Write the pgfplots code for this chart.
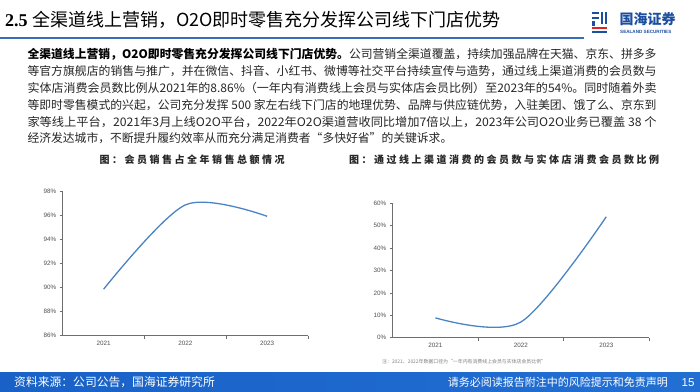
\documentclass[border=0pt]{standalone}
\usepackage{fontspec}
\usepackage{graphicx}
\usepackage{pgfplots}
\pgfplotsset{compat=1.18}
\setmainfont{Noto Sans CJK SC}
\newfontfamily\lib{Liberation Sans}
\newfontfamily\serif{Liberation Serif}
\newfontfamily\spaced[LetterSpace=25]{Noto Sans CJK SC}
\definecolor{lineblue}{HTML}{4A84C4}
\definecolor{axisgray}{HTML}{6E6E6E}
\definecolor{labelgray}{HTML}{505050}
\definecolor{titleblue}{HTML}{3A6DB5}
\definecolor{logoblue}{HTML}{1D4FA0}
\definecolor{logored}{HTML}{D7262E}
\definecolor{footA}{HTML}{1961C6}
\definecolor{footB}{HTML}{226FD4}
\definecolor{txt}{HTML}{262626}
\pgfplotsset{
  slidechart/.style={
    scale only axis, clip=false,
    xmin=-0.5, xmax=2.5,
    axis lines*=left,
    axis line style={draw=axisgray, line width=0.6pt},
    xtick={0.5,1.5,2.5}, xticklabels={},
    extra x ticks={0,1,2}, extra x tick labels={2021,2022,2023},
    extra x tick style={major tick length=0pt},
    tick align=outside, major tick length=3pt,
    tick style={draw=axisgray, line width=0.6pt},
    yticklabel={\pgfmathprintnumber{\tick}\%},
    /pgf/number format/assume math mode=true,
    ticklabel style={font=\lib\fontsize{6.3}{7}\selectfont, text=labelgray},
    xticklabel style={yshift=-2pt},
  }
}
\begin{document}
\begin{tikzpicture}
\path[use as bounding box] (0pt,0pt) rectangle (700pt,-391pt);
\fill[white] (0pt,0pt) rectangle (700pt,-391pt);
% title
\node[anchor=west, inner sep=0pt, text=black] at (5pt,-20pt)
  {{\serif\bfseries\fontsize{18}{20}\selectfont 2.5 }\fontsize{18}{20}\selectfont 全渠道线上营销，O2O即时零售充分发挥公司线下门店优势};
\draw[titleblue, line width=2pt] (0pt,-37.5pt) -- (584pt,-37.5pt);
% logo
\fill[logoblue] (592pt,-11.7pt) rectangle (599pt,-14.2pt);
\fill[logoblue] (592pt,-16.5pt) rectangle (599pt,-19pt);
\fill[logoblue] (592pt,-21.3pt) rectangle (594.5pt,-26pt);
\fill[logoblue] (601pt,-11.7pt) rectangle (603.3pt,-24pt);
\fill[logoblue] (604.6pt,-11.7pt) rectangle (607pt,-24pt);
\fill[logored] (592pt,-27pt) rectangle (607pt,-29.3pt);
\fill[logoblue] (592pt,-30.6pt) rectangle (607pt,-33pt);
\node[anchor=west, inner sep=0pt, text=logoblue] at (619.5pt,-19.5pt)
  {\bfseries\fontsize{14}{15}\selectfont 国海证券};
\node[anchor=west, inner sep=0pt, text=logoblue] at (620pt,-32.3pt)
  {\lib\bfseries\fontsize{4.6}{5}\selectfont SEALAND SECURITIES};
% paragraph
\begin{scope}[every node/.style={anchor=west, inner sep=0pt, text=txt, font=\fontsize{11.8}{14}\selectfont}]
\node at (27.3pt,-54.5pt) {\resizebox{629pt}{\height}{{\bfseries\color{black}全渠道线上营销，O2O即时零售充分发挥公司线下门店优势。}公司营销全渠道覆盖，持续加强品牌在天猫、京东、拼多多}};
\node at (27.3pt,-71.3pt) {\resizebox{629pt}{\height}{等官方旗舰店的销售与推广，并在微信、抖音、小红书、微博等社交平台持续宣传与造势，通过线上渠道消费的会员数与}};
\node at (27.3pt,-88.1pt) {\resizebox{629pt}{\height}{实体店消费会员数比例从2021年的8.86\%（一年内有消费线上会员与实体店会员比例）至2023年的54\%。同时随着外卖}};
\node at (27.3pt,-104.9pt) {\resizebox{629pt}{\height}{等即时零售模式的兴起，公司充分发挥 500 家左右线下门店的地理优势、品牌与供应链优势，入驻美团、饿了么、京东到}};
\node at (27.3pt,-121.7pt) {\resizebox{629pt}{\height}{家等线上平台，2021年3月上线O2O平台，2022年O2O渠道营收同比增加7倍以上，2023年公司O2O业务已覆盖 38 个}};
\node at (27.3pt,-138.5pt) {经济发达城市，不断提升履约效率从而充分满足消费者“多快好省”的关键诉求。};
\end{scope}
% chart titles
\node[inner sep=0pt, text=txt] at (192pt,-160pt) {\spaced\bfseries\fontsize{10}{12}\selectfont 图：会员销售占全年销售总额情况};
\node[inner sep=0pt, text=txt] at (504pt,-160pt) {\spaced\bfseries\fontsize{10}{12}\selectfont 图：通过线上渠道消费的会员数与实体店消费会员数比例};
% left chart
\begin{axis}[slidechart,
  at={(62.7pt,-335.7pt)}, anchor=south west,
  width=245.3pt, height=144pt,
  ymin=86, ymax=98, ytick={86,88,...,98}]
\addplot[smooth, color=lineblue, line width=1.3pt] coordinates {(0,89.87) (1,96.9) (2,95.95)};
\end{axis}
% right chart
\begin{axis}[slidechart,
  at={(392.7pt,-337.7pt)}, anchor=south west,
  width=256.3pt, height=134.4pt,
  ymin=0, ymax=60, ytick={0,10,...,60}]
\addplot[smooth, color=lineblue, line width=1.3pt] coordinates {(0,8.86) (1,7.0) (2,54)};
\end{axis}
% note
\node[anchor=west, inner sep=0pt, text=gray] at (382pt,-362pt)
  {\fontsize{4.9}{6}\selectfont 注：2021、2022年数据口径为“一年内有消费线上会员与实体店会员比例”};
% footer
\shade[left color=footA, right color=footB] (0pt,-372.7pt) rectangle (700pt,-391pt);
\node[anchor=west, inner sep=0pt, text=white] at (14pt,-382.5pt)
  {\fontsize{11.8}{13}\selectfont 资料来源：公司公告，国海证券研究所};
\node[anchor=east, inner sep=0pt, text=white] at (668pt,-382.5pt)
  {\fontsize{11}{13}\selectfont 请务必阅读报告附注中的风险提示和免责声明};
\node[inner sep=0pt, text=white] at (688pt,-382.5pt)
  {\lib\fontsize{11.5}{13}\selectfont 15};
\end{tikzpicture}
\end{document}
